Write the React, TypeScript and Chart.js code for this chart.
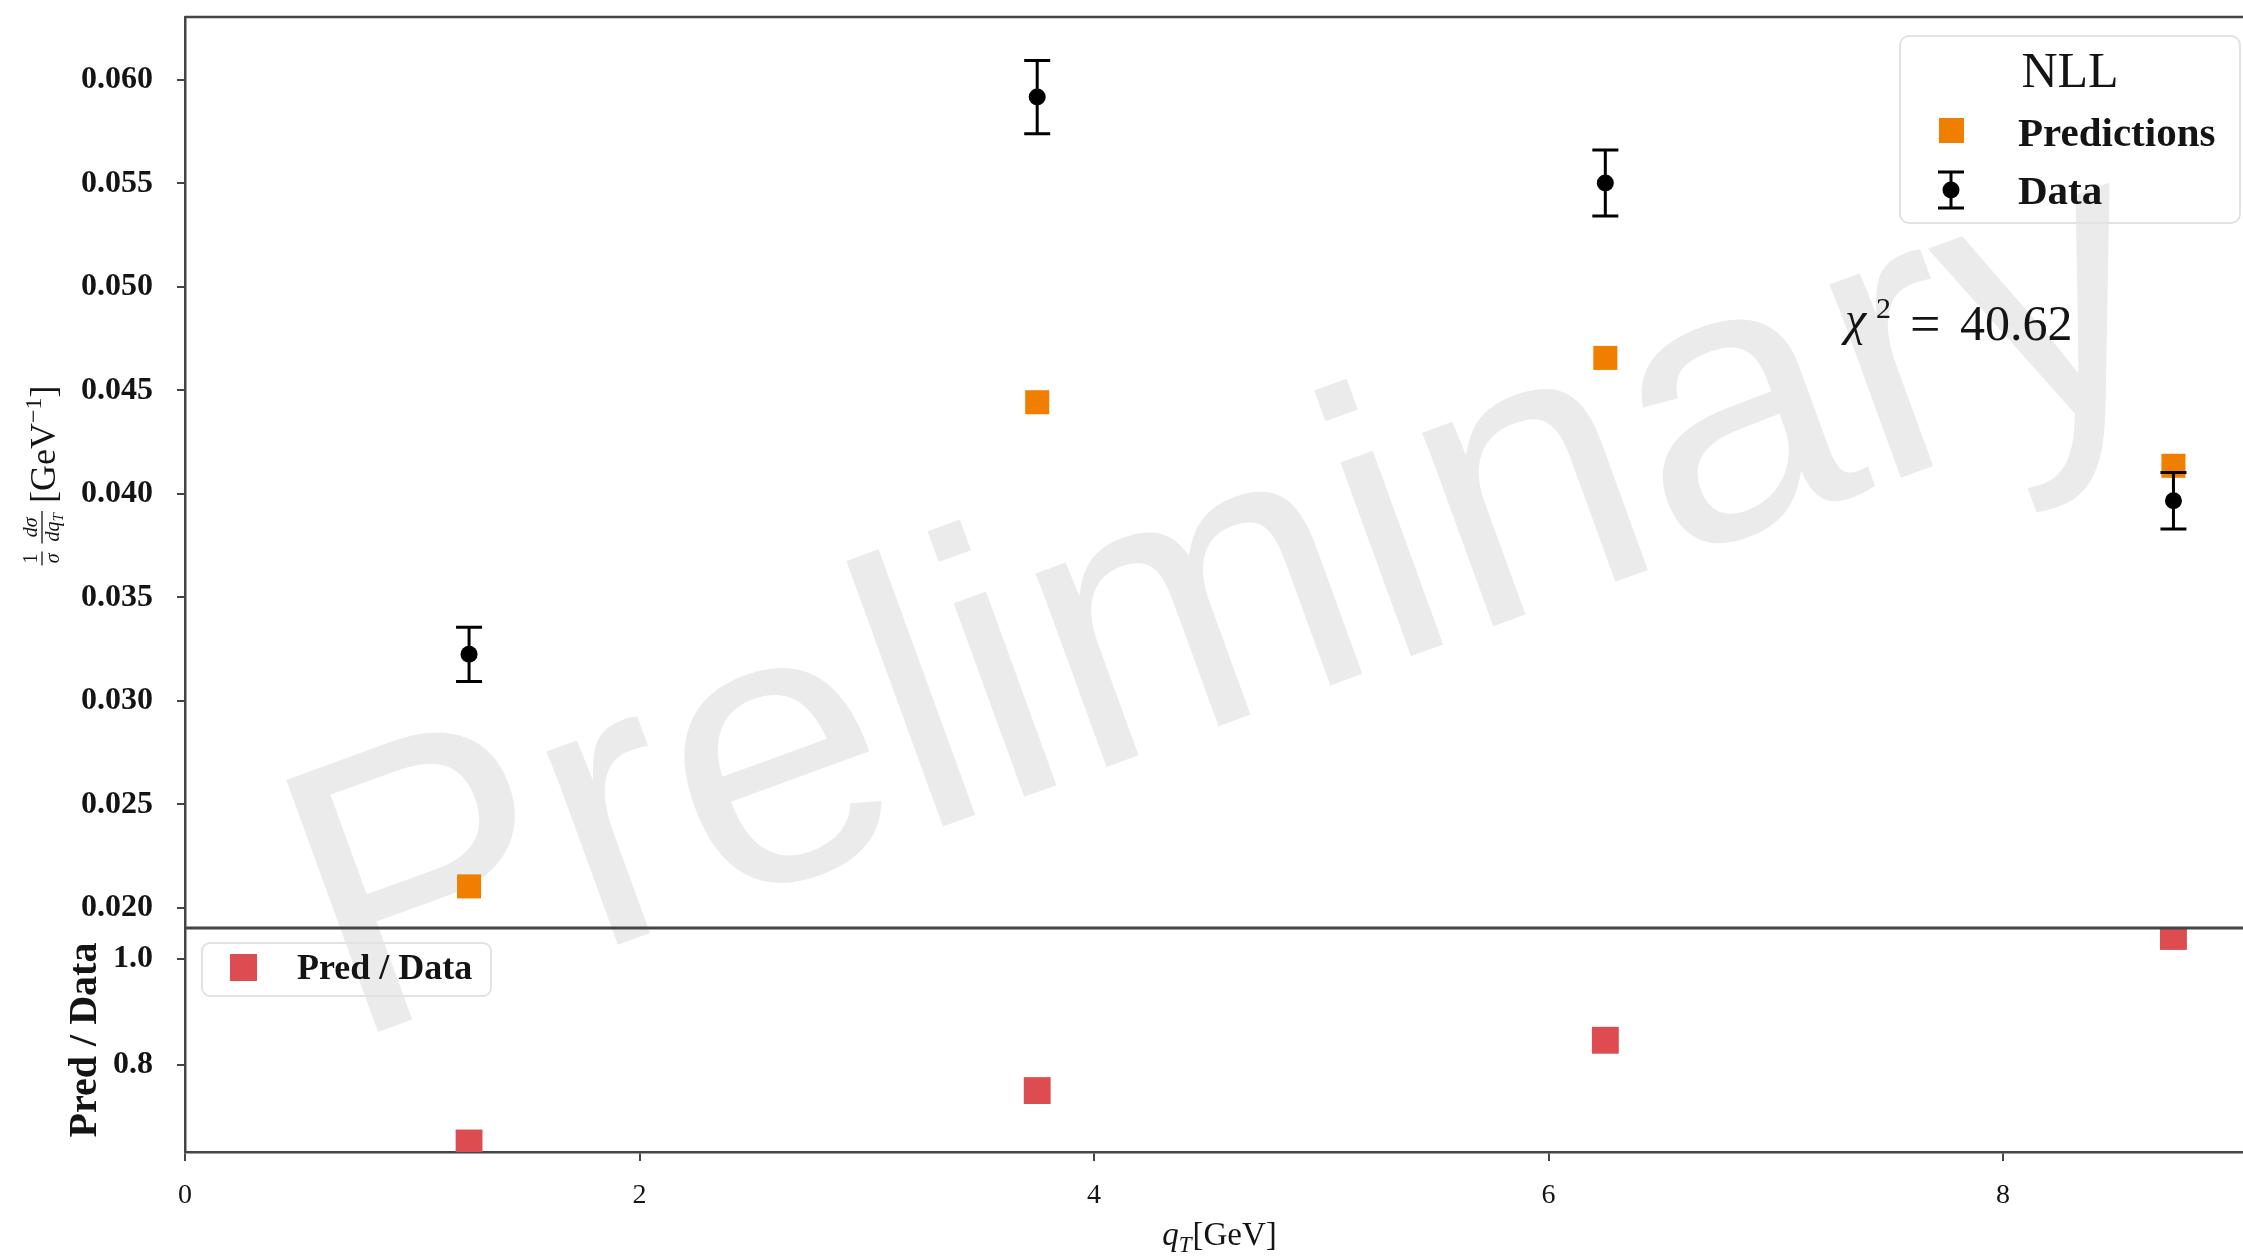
import React, { useEffect, useRef } from 'react';
import { Chart, registerables } from 'chart.js';

Chart.register(...registerables);

// ---------------- data ----------------
const qTValues = [1.25, 3.75, 6.25, 8.75];
const dataValues = [0.03225, 0.05917, 0.05502, 0.03967];
const dataErrors = [0.00131, 0.00177, 0.00159, 0.00136];
const predValues = [0.02104, 0.04443, 0.04657, 0.04136];
const ratioValues = [0.652, 0.751, 0.846, 1.042];
const xTickValues = [0, 2, 4, 6, 8];
const yMainTickValues = [0.02, 0.025, 0.03, 0.035, 0.04, 0.045, 0.05, 0.055, 0.06];
const yRatioTickValues = [0.8, 1.0];
const legendTitle = 'NLL';
const legendLabels = ['Predictions', 'Data'];
const ratioLegendLabel = 'Pred / Data';
const chi2Value = '40.62';
const watermarkText = 'Preliminary';

// ---------------- style ----------------
const W = 2243;
const H = 1260;
const ORANGE = '#F07F00';
const RED = '#DC4C50';
const AXIS = '#454545';
const TEXT = '#141414';
const SERIF = '"Liberation Serif", "Times New Roman", serif';
const SANS = '"Liberation Sans", Arial, sans-serif';

function measure(ctx: CanvasRenderingContext2D, font: string, s: string) {
  ctx.font = font;
  return ctx.measureText(s).width;
}

function drawYTitle(ctx: CanvasRenderingContext2D, cx: number, cy: number) {
  ctx.save();
  ctx.translate(cx, cy);
  ctx.rotate(-Math.PI / 2);
  const fN = `20px ${SERIF}`;
  const fI = `italic 20px ${SERIF}`;
  const fIs = `italic 15px ${SERIF}`;
  const fB = `36px ${SERIF}`;
  const fS = `24px ${SERIF}`;
  const w1 = Math.max(measure(ctx, fN, '1'), measure(ctx, fI, 'σ')) + 4;
  const wdq = measure(ctx, fI, 'dq');
  const wq = wdq + measure(ctx, fIs, 'T');
  const w2 = Math.max(measure(ctx, fI, 'dσ'), wq) + 4;
  const wA = measure(ctx, fB, '[GeV');
  const wS = measure(ctx, fS, '−1');
  const wC = measure(ctx, fB, ']');
  const gap = 8;
  const total = w1 + gap + w2 + gap + wA + wS + wC;
  let x = -total / 2;
  const barY = 0;
  const numY = -5;
  const denY = 17;
  const baseY = 13;
  ctx.fillStyle = TEXT;
  ctx.strokeStyle = TEXT;
  ctx.lineWidth = 1.3;
  ctx.textBaseline = 'alphabetic';
  ctx.textAlign = 'center';
  ctx.font = fN;
  ctx.fillText('1', x + w1 / 2, numY);
  ctx.font = fI;
  ctx.fillText('σ', x + w1 / 2, denY);
  ctx.beginPath();
  ctx.moveTo(x, barY);
  ctx.lineTo(x + w1, barY);
  ctx.stroke();
  x += w1 + gap;
  ctx.font = fI;
  ctx.fillText('dσ', x + w2 / 2, numY);
  ctx.textAlign = 'left';
  let dx = x + (w2 - wq) / 2;
  ctx.font = fI;
  ctx.fillText('dq', dx, denY);
  dx += wdq;
  ctx.font = fIs;
  ctx.fillText('T', dx, denY + 4);
  ctx.beginPath();
  ctx.moveTo(x, barY);
  ctx.lineTo(x + w2, barY);
  ctx.stroke();
  x += w2 + gap;
  ctx.font = fB;
  ctx.fillText('[GeV', x, baseY);
  x += wA;
  ctx.font = fS;
  ctx.fillText('−1', x, baseY - 14);
  x += wS;
  ctx.font = fB;
  ctx.fillText(']', x, baseY);
  ctx.restore();
}

function drawXTitle(ctx: CanvasRenderingContext2D, cx: number, baseY: number) {
  const fQ = `italic 33px ${SERIF}`;
  const fT = `italic 23px ${SERIF}`;
  const fB = `33px ${SERIF}`;
  const wq = measure(ctx, fQ, 'q');
  const wt = measure(ctx, fT, 'T');
  const wg = measure(ctx, fB, '[GeV]');
  let x = cx - (wq + wt + wg) / 2;
  ctx.save();
  ctx.fillStyle = TEXT;
  ctx.textAlign = 'left';
  ctx.textBaseline = 'alphabetic';
  ctx.font = fQ;
  ctx.fillText('q', x, baseY);
  x += wq;
  ctx.font = fT;
  ctx.fillText('T', x, baseY + 7);
  x += wt + 1;
  ctx.font = fB;
  ctx.fillText('[GeV]', x, baseY);
  ctx.restore();
}

function drawErrorIcon(ctx: CanvasRenderingContext2D, x: number, yTop: number, yBot: number, yMid: number) {
  ctx.save();
  ctx.strokeStyle = '#000';
  ctx.fillStyle = '#000';
  ctx.lineWidth = 3;
  ctx.beginPath();
  ctx.moveTo(x, yTop);
  ctx.lineTo(x, yBot);
  ctx.moveTo(x - 13, yTop);
  ctx.lineTo(x + 13, yTop);
  ctx.moveTo(x - 13, yBot);
  ctx.lineTo(x + 13, yBot);
  ctx.stroke();
  ctx.beginPath();
  ctx.arc(x, yMid, 8.5, 0, Math.PI * 2);
  ctx.fill();
  ctx.restore();
}

function zeroPadding(s: any) {
  s.paddingTop = 0;
  s.paddingBottom = 0;
  s.paddingLeft = 0;
  s.paddingRight = 0;
}

const decorPlugin = {
  id: 'decor',
  beforeDraw(chart: any) {
    const ctx: CanvasRenderingContext2D = chart.ctx;
    ctx.save();
    ctx.fillStyle = '#ffffff';
    ctx.fillRect(0, 0, chart.width, chart.height);
    ctx.translate(348, 1043);
    ctx.rotate((-20 * Math.PI) / 180);
    ctx.font = `390px ${SANS}`;
    ctx.fillStyle = '#ebebeb';
    ctx.textAlign = 'left';
    ctx.textBaseline = 'alphabetic';
    ctx.fillText(watermarkText, 0, 0);
    ctx.restore();
  },
  afterDatasetsDraw(chart: any) {
    const ctx: CanvasRenderingContext2D = chart.ctx;
    const xs = chart.scales.x;
    const ys = chart.scales.y;
    ctx.save();
    ctx.strokeStyle = '#000';
    ctx.lineWidth = 3;
    qTValues.forEach((q, i) => {
      const x = xs.getPixelForValue(q);
      const yt = ys.getPixelForValue(dataValues[i] + dataErrors[i]);
      const yb = ys.getPixelForValue(dataValues[i] - dataErrors[i]);
      ctx.beginPath();
      ctx.moveTo(x, yt);
      ctx.lineTo(x, yb);
      ctx.moveTo(x - 13, yt);
      ctx.lineTo(x + 13, yt);
      ctx.moveTo(x - 13, yb);
      ctx.lineTo(x + 13, yb);
      ctx.stroke();
    });
    ctx.restore();
  },
  afterDraw(chart: any) {
    const ctx: CanvasRenderingContext2D = chart.ctx;
    const area = chart.chartArea;
    const yMain = chart.scales.y;
    const yR = chart.scales.yr;
    ctx.save();
    // frame: top line and panel divider
    ctx.strokeStyle = AXIS;
    ctx.lineWidth = 2.5;
    ctx.beginPath();
    ctx.moveTo(area.left, area.top);
    ctx.lineTo(area.right, area.top);
    ctx.stroke();
    ctx.lineWidth = 3;
    ctx.beginPath();
    ctx.moveTo(area.left, yMain.bottom);
    ctx.lineTo(area.right, yMain.bottom);
    ctx.stroke();

    // y titles
    drawYTitle(ctx, 42, (yMain.top + yMain.bottom) / 2 + 3);
    ctx.save();
    ctx.translate(96, (yR.top + yR.bottom) / 2);
    ctx.rotate(-Math.PI / 2);
    ctx.font = `bold 40px ${SERIF}`;
    ctx.fillStyle = TEXT;
    ctx.textAlign = 'center';
    ctx.textBaseline = 'alphabetic';
    ctx.fillText(ratioLegendLabel, 0, 0);
    ctx.restore();

    // x title
    drawXTitle(ctx, (area.left + area.right) / 2 + 5, 1245);

    // top legend
    ctx.strokeStyle = '#e2e2e2';
    ctx.lineWidth = 2;
    ctx.beginPath();
    ctx.roundRect(1900, 36, 340, 187, 9);
    ctx.stroke();
    ctx.fillStyle = TEXT;
    ctx.textAlign = 'center';
    ctx.textBaseline = 'alphabetic';
    ctx.font = `50px ${SERIF}`;
    ctx.fillText(legendTitle, 2070, 87);
    ctx.fillStyle = ORANGE;
    ctx.fillRect(1939, 118, 25, 25);
    drawErrorIcon(ctx, 1951, 172, 208, 190);
    ctx.fillStyle = TEXT;
    ctx.textAlign = 'left';
    ctx.font = `bold 41px ${SERIF}`;
    ctx.fillText(legendLabels[0], 2018, 146);
    ctx.fillText(legendLabels[1], 2018, 204);

    // ratio legend
    ctx.strokeStyle = '#e2e2e2';
    ctx.lineWidth = 2;
    ctx.beginPath();
    ctx.roundRect(202, 943, 289, 53, 8);
    ctx.stroke();
    ctx.fillStyle = RED;
    ctx.fillRect(230, 954, 27, 27);
    ctx.fillStyle = TEXT;
    ctx.font = `bold 36px ${SERIF}`;
    ctx.fillText(ratioLegendLabel, 297, 979);

    // chi^2 annotation
    ctx.font = `italic 48px ${SERIF}`;
    ctx.fillText('χ', 1845, 335);
    ctx.font = `30px ${SERIF}`;
    ctx.fillText('2', 1876, 318);
    ctx.font = `54px ${SERIF}`;
    ctx.fillText('=', 1910, 342);
    ctx.font = `50px ${SERIF}`;
    ctx.fillText(chi2Value, 1960, 340);
    ctx.restore();
  },
};

const tickFontBold = { family: SERIF, size: 32, weight: 'bold' as const };

export default function App() {
  const ref = useRef<HTMLCanvasElement>(null);
  useEffect(() => {
    const canvas = ref.current;
    if (!canvas) return;
    const chart = new Chart(canvas, {
      type: 'scatter',
      data: {
        datasets: [
          {
            label: legendLabels[0],
            data: qTValues.map((x, i) => ({ x, y: predValues[i] })),
            yAxisID: 'y',
            pointStyle: 'rect',
            pointRadius: 17,
            backgroundColor: ORANGE,
            borderWidth: 0,
            borderColor: 'rgba(0,0,0,0)',
            order: 2,
          },
          {
            label: legendLabels[1],
            data: qTValues.map((x, i) => ({ x, y: dataValues[i] })),
            yAxisID: 'y',
            pointStyle: 'circle',
            pointRadius: 8.5,
            backgroundColor: '#000',
            borderWidth: 0,
            borderColor: 'rgba(0,0,0,0)',
            order: 1,
          },
          {
            label: ratioLegendLabel,
            data: qTValues.map((x, i) => ({ x, y: ratioValues[i] })),
            yAxisID: 'yr',
            pointStyle: 'rect',
            pointRadius: 19,
            backgroundColor: RED,
            borderWidth: 0,
            borderColor: 'rgba(0,0,0,0)',
            order: 3,
          },
        ],
      },
      options: {
        responsive: false,
        animation: false,
        devicePixelRatio: 1,
        layout: { autoPadding: false, padding: { top: 17, right: 0, bottom: 0, left: 0 } },
        plugins: {
          legend: { display: false },
          tooltip: { enabled: false },
          title: { display: false },
        },
        scales: {
          x: {
            type: 'linear',
            position: 'bottom',
            min: 0,
            max: 9.056,
            afterBuildTicks: (s: any) => {
              s.ticks = xTickValues.map((v) => ({ value: v }));
            },
            afterFit: (s: any) => {
              s.height = 108;
              zeroPadding(s);
            },
            grid: { drawOnChartArea: false, drawTicks: true, tickLength: 9, color: AXIS, lineWidth: 2 },
            border: { display: true, color: AXIS, width: 2.5 },
            ticks: {
              font: { family: SERIF, size: 28 },
              color: TEXT,
              padding: 18,
              maxRotation: 0,
              callback: (v: any) => String(v),
            },
          },
          yr: {
            type: 'linear',
            position: 'left',
            stack: 'panels',
            stackWeight: 224,
            min: 0.635,
            max: 1.058,
            afterBuildTicks: (s: any) => {
              s.ticks = yRatioTickValues.map((v) => ({ value: v }));
            },
            afterFit: (s: any) => {
              s.width = 185;
              zeroPadding(s);
            },
            grid: { drawOnChartArea: false, drawTicks: true, tickLength: 8, color: AXIS, lineWidth: 2 },
            border: { display: true, color: AXIS, width: 2.5 },
            ticks: {
              font: tickFontBold,
              color: TEXT,
              padding: 24,
              callback: (v: any) => Number(v).toFixed(1),
            },
          },
          y: {
            type: 'linear',
            position: 'left',
            stack: 'panels',
            stackWeight: 911,
            min: 0.01903,
            max: 0.06304,
            afterBuildTicks: (s: any) => {
              s.ticks = yMainTickValues.map((v) => ({ value: v }));
            },
            afterFit: (s: any) => {
              s.width = 185;
              zeroPadding(s);
            },
            grid: { drawOnChartArea: false, drawTicks: true, tickLength: 8, color: AXIS, lineWidth: 2 },
            border: { display: true, color: AXIS, width: 2.5 },
            ticks: {
              font: tickFontBold,
              color: TEXT,
              padding: 24,
              callback: (v: any) => Number(v).toFixed(3),
            },
          },
        },
      } as any,
      plugins: [decorPlugin],
    });
    return () => chart.destroy();
  }, []);

  return (
    <div style={{ position: 'fixed', left: 0, top: 0, width: W, height: H, background: '#fff' }}>
      <canvas ref={ref} width={W} height={H} style={{ display: 'block', width: W, height: H }} />
    </div>
  );
}
